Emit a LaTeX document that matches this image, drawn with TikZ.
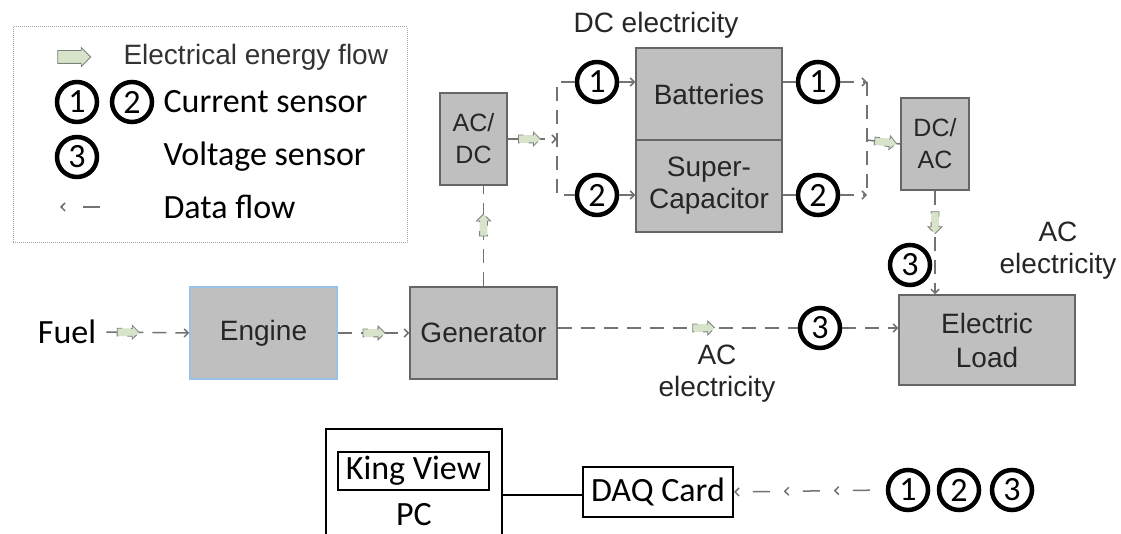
\documentclass[tikz,border=0pt]{standalone}
\usepackage{fontspec}
\setmainfont{Liberation Sans}
\newfontfamily\calibri{Carlito}
\usetikzlibrary{shapes.arrows, arrows.meta, positioning, calc, decorations.markings}
\definecolor{energyfill}{RGB}{216,228,202}
\definecolor{enginedraw}{RGB}{155,194,230}
\tikzset{
    unitbox/.style={rectangle, draw=black!60, line width=1.5pt, fill=black!25, text=black!85, align=center, inner sep=0pt, font=\fontsize{28}{33}\selectfont},
    sensor/.style={circle, draw=black, line width=4.5pt, minimum size=40pt, inner sep=0pt, font=\calibri\fontsize{34}{34}\selectfont},
    energy/.style={single arrow, draw=black!50, line width=0.8pt, fill=energyfill, minimum height=22pt, inner sep=3.5pt, single arrow head extend=3pt},
    link/.style={draw=black!55, line width=1.5pt, dash pattern=on 14pt off 9pt},
    data/.style={link, -{Straight Barb[length=4pt,width=8pt]}},
    calibritext/.style={font=\calibri\fontsize{34}{36}\selectfont, text=black},
    pcbox/.style={rectangle, draw=black, line width=2pt, inner sep=0pt, calibritext}
}

\begin{document}
\begin{tikzpicture}[x=1pt, y=-1pt]
    \useasboundingbox (0,0) rectangle (1121,534);

    % Legend
    \node (legend) [draw=black!35, densely dotted, line width=1pt, minimum width=394pt, minimum height=216pt] at (210,135) {};
    \node (legarrow) [energy, minimum height=33pt, inner sep=6pt, single arrow head extend=3pt] at (71,57) {};
    \node (legtxt1) [anchor=west, text=black!80, font=\fontsize{28}{33}\selectfont] at (120,57) {Electrical energy flow};
    \node (l1) [sensor] at (77,102) {1};
    \node (l2) [sensor] at (132,102) {2};
    \node (legtxt2) [anchor=west, calibritext] at (160,102) {Current sensor};
    \node (l3) [sensor] at (77,157) {3};
    \node (legtxt3) [anchor=west, calibritext] at (160,157) {Voltage sensor};
    \coordinate (ld1) at (60,207);
    \coordinate (ld2) at (100,207);
    \draw [data, dash pattern=on 17pt off 20pt] (ld2) -- (ld1);
    \node (legtxt4) [anchor=west, calibritext] at (160,207) {Data flow};

    % Units
    \node (fuel) [calibritext, inner xsep=10pt] at (67,332) {Fuel};
    \node (engine) [unitbox, draw=enginedraw, minimum width=147pt, minimum height=92pt] at (263.5,333) {Engine};
    \node (gen) [unitbox, minimum width=147pt, minimum height=92pt] at (483.5,333) {Generator};
    \node (acdc) [unitbox, minimum width=67pt, minimum height=92pt, font=\fontsize{25}{32}\selectfont] at (473.5,139) {AC/\\DC};
    \node (batt) [unitbox, minimum width=146pt, minimum height=92pt] at (709,94) {Batteries};
    \node (supcap) [unitbox, minimum width=146pt, minimum height=92pt, font=\fontsize{28}{32}\selectfont] at (709,186) {Super-\\Capacitor};
    \node (dcac) [unitbox, minimum width=68pt, minimum height=92pt, font=\fontsize{25}{32}\selectfont] at (935,144) {DC/\\AC};
    \node (load) [unitbox, minimum width=176pt, minimum height=90pt, font=\fontsize{28}{34}\selectfont] at (987,340) {Electric\\Load};

    % Sensors
    \node (s1a) [sensor] at (597,82) {1};
    \node (s2a) [sensor] at (597,195) {2};
    \node (s1b) [sensor] at (818,82) {1};
    \node (s2b) [sensor] at (818,195) {2};
    \node (s3a) [sensor] at (910,265) {3};
    \node (s3b) [sensor] at (820,328) {3};

    % Texts
    \node (dctxt) [text=black!85, font=\fontsize{28}{33}\selectfont] at (656,25) {DC electricity};
    \node (actxt1) [text=black!85, align=center, font=\fontsize{28}{32}\selectfont] at (1058,251) {AC\\electricity};
    \node (actxt2) [text=black!85, align=center, font=\fontsize{28}{32}\selectfont] at (717,374) {AC\\electricity};

    % Energy path
    \draw [data] (fuel.east) -- (engine.west) node [energy, pos=0.24, sloped] {};
    \draw [data] (engine.east) -- (gen.west) node [energy, pos=0.48, sloped] {};
    \draw [link] (gen.north) -- (gen.north |- acdc.south) node [energy, pos=0.59, sloped] {};
    \coordinate (jl) at (557,139);
    \draw [data] (acdc.east) -- (jl) node [energy, pos=0.4, sloped] {};
    \draw [link] (s1a.west) -| (jl) |- (s2a.west);
    \draw [data] (s1a.east) -- (s1a.east -| batt.west);
    \draw [data] (s2a.east) -- (s2a.east -| supcap.west);
    \draw [link] (s1b.west -| batt.east) -- (s1b.west);
    \draw [link] (s2b.west -| supcap.east) -- (s2b.west);
    \coordinate (jr) at (867,140);
    \draw [data] (s1b.east) -- (s1b.east -| jr);
    \draw [data] (s2b.east) -- (s2b.east -| jr);
    \draw [link] (s1b.east -| jr) -- (s2b.east -| jr);
    \draw [link] (jr) -- (dcac.west) node [energy, pos=0.5, sloped] {};
    \draw [data] (dcac.south) -- (dcac.south |- load.north) node [energy, pos=0.29, sloped] {};
    \draw [link] (gen.east |- s3b) -- (s3b.west) node [energy, pos=0.6, sloped] {};
    \draw [data] (s3b.east) -- (s3b.east -| load.west);

    % Data acquisition
    \node (pc) [pcbox, minimum width=176pt, minimum height=131pt] at (414,494.5) {};
    \node (kingview) [pcbox, minimum width=151pt, minimum height=38pt] at (413.5,471) {King View};
    \node (pctxt) [calibritext] at (414,515) {PC};
    \node (daq) [pcbox, minimum width=150pt, minimum height=50pt] at (658,492) {DAQ Card};
    \node (b1) [sensor] at (908,490) {1};
    \node (b2) [sensor] at (959,490) {2};
    \node (b3) [sensor] at (1012,490) {3};
    \draw [line width=2pt] (pc.east) -- (pc.east -| daq.west);
    \draw [data, dash pattern=on 17pt off 33pt, dash phase=34pt,
        postaction={decorate, decoration={markings,
            mark=at position 52pt with {\arrow{Straight Barb[length=4pt,width=8pt]}},
            mark=at position 102pt with {\arrow{Straight Barb[length=4pt,width=8pt]}}}}]
        (b1.west) -- (daq.east);

\end{tikzpicture}
\end{document}
